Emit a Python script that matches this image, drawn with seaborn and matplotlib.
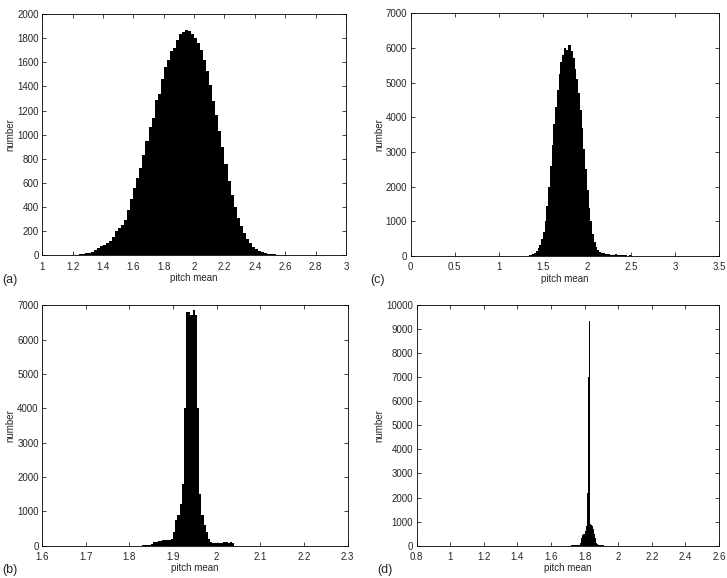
import numpy as np
import pandas as pd
import matplotlib
matplotlib.use("Agg")
import matplotlib.pyplot as plt
import seaborn as sns

sns.set_style("ticks")
plt.rcParams['font.family'] = ['Liberation Sans', 'DejaVu Sans']
plt.rcParams['font.size'] = 7

# (a)
a_start, a_width = 1.10, 0.02
a_counts = [0,2,3,5,5, 6,8,10,14,18, 22,30,45,60,80, 90,105,120,150,200,
            230,250,290,380,470, 560,640,720,830,950, 1060,1140,1290,1340,1460,
            1560,1620,1690,1720,1780, 1830,1850,1870,1860,1830, 1800,1760,1700,1620,1530,
            1410,1280,1160,1030,900, 760,620,500,400,310, 240,190,140,100,70,
            55,40,30,22,16, 12,10,8,8,6, 6,5,6,8,4, 3,2,2,1,1]
# (c)
c_start, c_width = 1.30, 0.02
c_counts = [5,10,20,40,60, 90,140,220,320,480, 700,1000,1450,2000,2600,
            3200,3800,4300,4800,5250, 5600,5800,6000,5950,6100, 6100,5900,5700,5400,5100,
            4700,4200,3700,3100,2500, 1900,1400,1000,650,400, 260,180,130,100,80,
            60,50,45,40,35, 30,60,40,25,20, 20,25,20,15,30, 15,10,10,8,6, 5,5,4,3,2]
# (b)
b_start, b_width = 1.83, 0.005
b_counts = [20,20,25,30, 60,100,120,130, 140,150,150,160, 170,180,400,750,
            900,1200,1800,4000, 6800,6800,6700,6850, 6700,4000,1500,900,
            600,400,200,100, 80,70,80,90, 90,100,100,90, 100,80]
# (d)
d_start, d_width = 1.70, 0.005
d_counts = [5,5,5,5,10,10,10,10,15,15,20,20,30,40,60,100,
            300,450,500,480, 450,600,800,2200, 7000,9350,1500,900,
            850,800,700,500, 300,150,100,60,
            40,30,25,20,15,10,10,5,5,5,5,3,2,2,1,1,1,0,0,0]

panels = [
    ("(a)", a_start, a_width, a_counts, (1, 3), np.arange(1, 3.01, 0.2), (0, 2000), np.arange(0, 2001, 200), [0.058, 0.558, 0.418, 0.418]),
    ("(c)", c_start, c_width, c_counts, (0, 3.5), np.arange(0, 3.51, 0.5), (0, 7000), np.arange(0, 7001, 1000), [0.565, 0.557, 0.424, 0.42]),
    ("(b)", b_start, b_width, b_counts, (1.6, 2.3), np.arange(1.6, 2.31, 0.1), (0, 7000), np.arange(0, 7001, 1000), [0.058, 0.056, 0.42, 0.416]),
    ("(d)", d_start, d_width, d_counts, (0.8, 2.6), np.arange(0.8, 2.61, 0.2), (0, 10000), np.arange(0, 10001, 1000), [0.573, 0.056, 0.416, 0.416]),
]

fig = plt.figure(figsize=(7.27, 5.78), dpi=100)
for label, start, width, counts, xl, xt, yl, yt, rect in panels:
    ax = fig.add_axes(rect)
    n = len(counts)
    centers = start + width * (np.arange(n) + 0.5)
    df = pd.DataFrame({"center": centers, "count": np.asarray(counts, dtype=float)})
    sns.histplot(data=df, x="center", weights="count", binwidth=width,
                 binrange=(start, start + width * n), ax=ax, color="black",
                 alpha=1, linewidth=0)
    ax.set_xlim(*xl); ax.set_ylim(*yl)
    ax.set_xticks(xt); ax.set_yticks(yt)
    ax.set_xticklabels([f"{v:g}" for v in np.round(xt, 2)])
    ax.set_yticklabels([f"{int(v)}" for v in yt])
    ax.tick_params(direction="in", top=True, right=True, length=3, width=0.6, labelsize=7)
    ax.tick_params(axis="x", pad=4.5)
    ax.tick_params(axis="y", pad=2.5)
    for s in ax.spines.values():
        s.set_linewidth(0.6); s.set_color("black")
    ax.set_xlabel("pitch mean", fontsize=7, labelpad=1)
    ax.set_ylabel("number", fontsize=7, labelpad=1)
    ax.text(-0.13, -0.1, label, transform=ax.transAxes, fontsize=9, va="center", ha="left")

fig.savefig("out.png", dpi=100)
